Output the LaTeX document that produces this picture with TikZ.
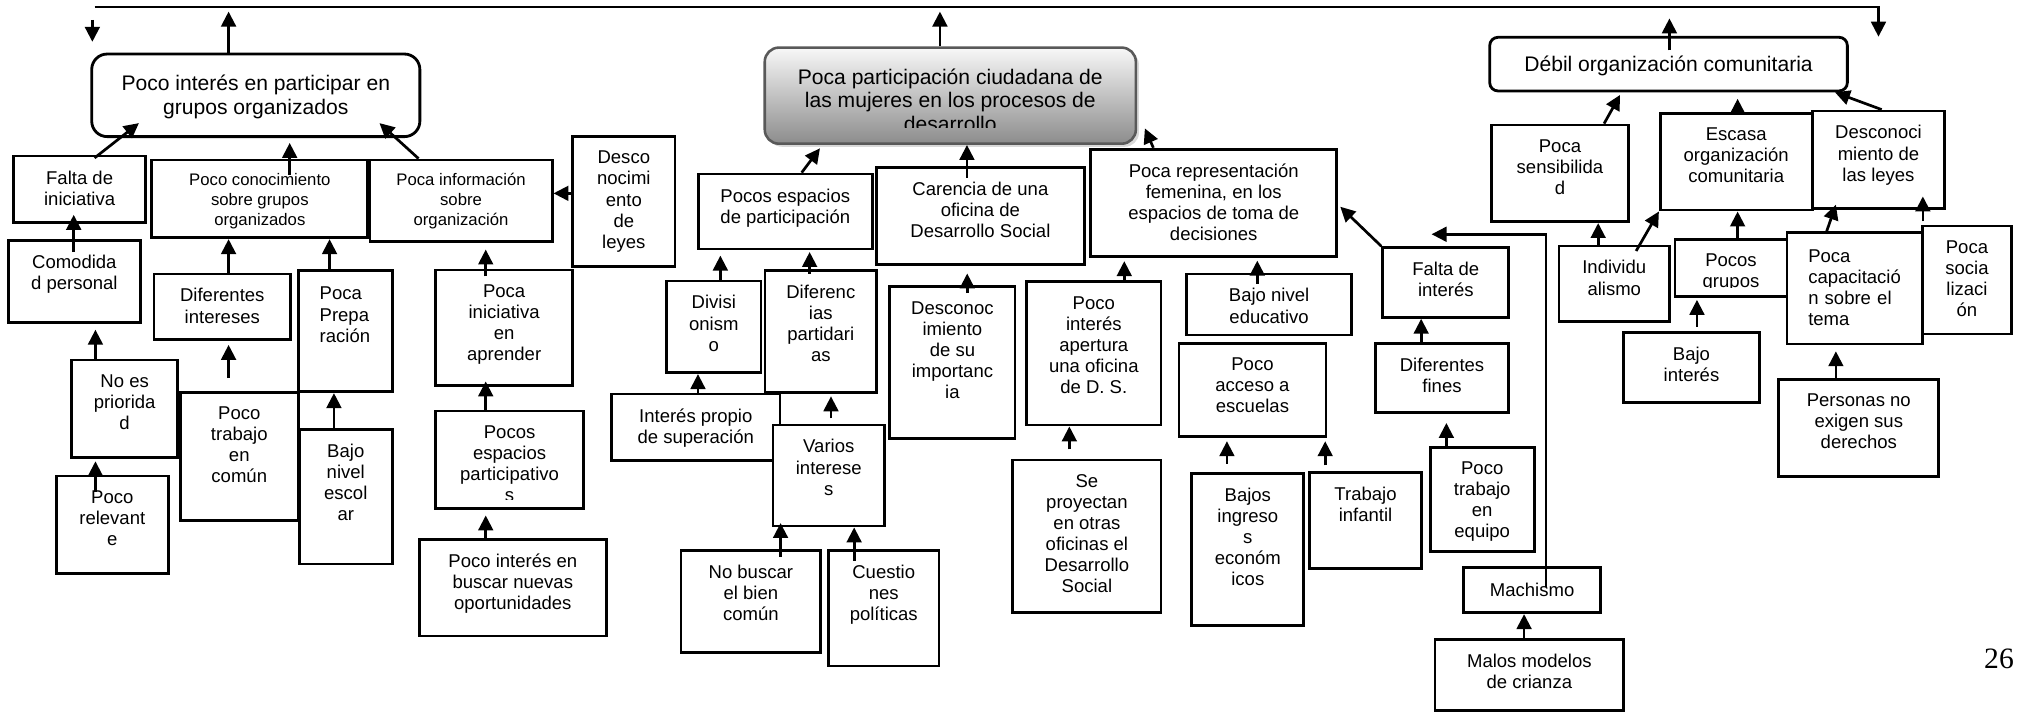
\documentclass[tikz,border=0pt]{standalone}
\usepackage{fontspec}
\setmainfont{Liberation Sans}
\newfontfamily\tiempos{Liberation Serif}
\usepackage{tikz}
\usetikzlibrary{arrows.meta,fit,shadows}
\tikzset{>={Triangle[length=5.8pt,width=5.7pt]},
         caja/.style={draw,line width=1.1pt,fill=white,inner sep=0pt},
         texto/.style={anchor=north,align=center,inner xsep=0pt,inner ysep=6pt,
                       font=\fontsize{7.2}{8.2}\selectfont,execute at begin node=\strut},
         chico/.style={font=\fontsize{6.5}{7.7}\selectfont,inner ysep=5.5pt},
         grande/.style={font=\fontsize{8.2}{9.5}\selectfont},
         redonda/.style={draw,line width=1.1pt,fill=white,rounded corners=6pt,inner sep=0pt},
         central/.style={draw=black!65,line width=1pt,rounded corners=5.5pt,inner sep=0pt,
                         top color=black!3,bottom color=black!45,
                         drop shadow={shadow xshift=1.2pt,shadow yshift=-1.2pt,opacity=.3}},
         pagina/.style={font=\tiempos\fontsize{11.5}{13}\selectfont,inner sep=0pt},
         flecha/.style={->,line width=1.05pt}}
\newcommand{\caja}[7][]{%
	\node[caja,fit={(#3,#4) (#5,#6)}] (#2) {};
	\begin{scope}
		\clip (#3,#4) rectangle (#5,#6-7);
		\node[texto,#1] (#2-t) at (#2.north) {#7};
	\end{scope}}

\begin{document}
\begin{tikzpicture}[x=0.5pt,y=-0.5pt]
	\useasboundingbox (0,0) rectangle (1568,558);
	\coordinate (tl) at (73.5,5.5);
	\coordinate (tr) at (1460.3,5.5);
	\node[redonda,fit={(71.3,42) (326.4,106.2)}] (pig) {};
	\node[texto,grande,inner ysep=8.45pt] (pig-t) at (pig.north) {Poco interés en participar en\\grupos organizados};
	\node[central,fit={(594.5,37) (883,111.7)}] (ppc) {};
	\begin{scope}
		\clip (594.5,37) rectangle (883,99);
		\node[texto,font=\fontsize{8.2}{9.1}\selectfont,inner ysep=8.5pt] (ppc-t) at (ppc.north)
			{Poca participación ciudadana de\\las mujeres en los procesos de\\desarrollo};
	\end{scope}
	\node[redonda,rounded corners=3.2pt,fit={(1158.1,29) (1436.1,70.7)}] (doc) {};
	\node[texto,grande,inner ysep=6.85pt] (doc-t) at (doc.north) {Débil organización comunitaria};
	\caja{fi}{10.8}{121.3}{113}{173.1}{Falta de\\iniciativa}
	\caja{cp}{6.7}{187}{108.9}{250.8}{Comodida\\d personal}
	\caja{nep}{55.6}{279.8}{138.2}{355.5}{No es\\priorida\\d}
	\caja{pr}{43.8}{370}{130.8}{445.7}{Poco\\relevant\\e}
	\caja[chico]{pcg}{118}{124.4}{286}{184.8}{Poco conocimiento\\sobre grupos\\organizados}
	\caja[chico]{pio}{287.6}{124.4}{429.2}{187.9}{Poca información\\sobre\\organización}
	\caja{dl}{445.2}{106.2}{524.7}{207.3}{Desco\\nocimi\\ento\\de\\leyes}
	\caja{di}{119.7}{213}{225.9}{263.8}{Diferentes\\intereses}
	\caja[text width=20pt,align=left]{pp}{232}{210.4}{305}{304.5}{Poca\\Prepa\\ración}
	\caja{ptc}{140}{305}{232}{404.7}{Poco\\trabajo\\en\\común}
	\caja{bne}{232.6}{333.7}{305}{438.4}{Bajo\\nivel\\escol\\ar}
	\caja{pia}{338.8}{209.9}{445}{299.8}{Poca\\iniciativa\\en\\aprender}
	\caja{pep}{338.8}{319.5}{453.5}{395.2}{Pocos\\espacios\\participativo\\s}
	\caja{pib}{326}{419.3}{471.3}{494.4}{Poco interés en\\buscar nuevas\\oportunidades}
	\caja{pesp}{542.9}{135.3}{678.1}{193.6}{Pocos espacios\\de participación}
	\caja{cod}{681.5}{130.3}{842.8}{205.5}{Carencia de una\\oficina de\\Desarrollo Social}
	\caja{prf}{848}{116}{1039.1}{199.5}{Poca representación\\femenina, en los\\espacios de toma de\\decisiones}
	\caja{div}{518.2}{218.4}{591.6}{289.7}{Divisi\\onism\\o}
	\caja{dp}{594.7}{210.4}{681.5}{305}{Diferenc\\ias\\partidari\\as}
	\caja{dsi}{691.8}{222.9}{789}{340.7}{Desconoc\\imiento\\de su\\importanc\\ia}
	\caja{pao}{798.1}{219}{902.5}{330.4}{Poco\\interés\\apertura\\una oficina\\de D. S.}
	\caja{bned}{922.5}{213}{1050.7}{260.4}{Bajo nivel\\educativo}
	\caja{pae}{916.5}{266.9}{1030.8}{339.5}{Poco\\acceso a\\escuelas}
	\caja{ips}{475.5}{306.3}{606.3}{358.1}{Interés propio\\de superación}
	\caja{vi}{600.9}{330.4}{687.7}{408.9}{Varios\\interese\\s}
	\caja{nbc}{529.4}{428}{638}{507.1}{No buscar\\el bien\\común}
	\caja{cpo}{644}{428}{730}{517.7}{Cuestio\\nes\\políticas}
	\caja{sp}{787.4}{357.6}{902.5}{476.3}{Se\\proyectan\\en otras\\oficinas el\\Desarrollo\\Social}
	\caja{bie}{926.5}{367.9}{1013.6}{486.5}{Bajos\\ingreso\\s\\económ\\icos}
	\caja{ti}{1017.8}{367.4}{1105.3}{441.8}{Trabajo\\infantil}
	\caja{fdi}{1074.9}{192.5}{1173}{246.7}{Falta de\\interés}
	\caja{dfi}{1069}{266.9}{1173}{320.5}{Diferentes\\fines}
	\caja{pte}{1111.9}{347.7}{1192.6}{428.8}{Poco\\trabajo\\en\\equipo}
	\caja{mach}{1137.9}{441.3}{1244.2}{476.3}{Machismo}
	\caja{mmc}{1115.5}{497}{1262.3}{552.5}{Malos modelos\\de crianza}
	\caja{ps}{1159.6}{97.2}{1265.8}{172.3}{Poca\\sensibilida\\d}
	\caja{eoc}{1290.7}{88.1}{1408.7}{163.3}{Escasa\\organización\\comunitaria}
	\caja{dll}{1408.7}{86.3}{1511.9}{162}{Desconoci\\miento de\\las leyes}
	\caja{ind}{1212}{191.2}{1297.8}{250}{Individu\\alismo}
	\caja{pg}{1302.1}{186}{1389.2}{230.6}{Pocos\\grupos}
	\caja{bi}{1262}{258.6}{1367.9}{313}{Bajo\\interés}
	\caja[text width=36.3pt,align=left]{pct}{1389.2}{180.9}{1494.8}{267.4}{Poca\\capacitació\\\makebox[36.3pt][s]{n sobre el}\\tema}
	\caja{psoc}{1494.8}{175.7}{1563.4}{259.7}{Poca\\socia\\lizaci\\ón}
	\caja{pne}{1382.8}{294.9}{1507.2}{370.5}{Personas no\\exigen sus\\derechos}
	\node[pagina] (pag) at (1554,512) {26};
	\draw[flecha] (tl) -- (tr) -- ([yshift=-11.5pt]tr);
	\draw[flecha] ([xshift=-0.85pt,yshift=-5pt]tl) -- ([xshift=-0.85pt,yshift=-13.5pt]tl);
	\draw[flecha] (pig.north -| 177.7,0) -- ([yshift=-1.75pt]tl -| 177.7,0);
	\draw[flecha] (ppc.north -| 730.7,0) -- ([yshift=-1.75pt]tl -| 730.7,0);
	\draw[flecha] ([yshift=-5.6pt]doc.north -| 1297.8,0) -- ([yshift=-4.4pt]tl -| 1297.8,0);
	\draw[flecha] ([yshift=-1.3pt]fi.north -| 73.5,0) -- ([yshift=5.8pt]pig.south -| 108,0);
	\draw[flecha] ([yshift=-6.3pt]pcg.north -| 225.2,0) -- ([yshift=-1.9pt]pig.south -| 225.2,0);
	\draw[flecha] (pio.north -| 325.4,0) -- ([yshift=5.8pt]pig.south -| 295,0);
	\draw[flecha] (dl.west |- 0,150.3) -- (pio.east |- 0,150.3);
	\draw[flecha] ([yshift=-5pt]cp.north -| 57.3,0) -- ([yshift=3.6pt]fi.south -| 57.3,0);
	\draw[flecha] (di.north -| 177.7,0) -- (pcg.south -| 177.7,0);
	\draw[flecha] (pp.north -| 256.2,0) -- (pcg.south -| 256.2,0);
	\draw[flecha] ([yshift=-3pt]pia.north -| 377.6,0) -- ([yshift=-2.5pt]pio.south -| 377.6,0);
	\draw[flecha] (nep.north -| 74.2,0) -- ([yshift=-2.2pt]cp.south -| 74.2,0);
	\draw[flecha] ([yshift=-6.7pt]pr.north -| 74.2,0) -- ([yshift=-1pt]nep.south -| 74.2,0);
	\draw[flecha] ([yshift=5pt]ptc.north -| 177.7,0) -- ([yshift=-1.6pt]di.south -| 177.7,0);
	\draw[flecha] (bne.north -| 259.6,0) -- (pp.south -| 259.6,0);
	\draw[flecha] (pep.north -| 377.6,0) -- ([yshift=2.2pt]pia.south -| 377.6,0);
	\draw[flecha] (pib.north -| 377.6,0) -- ([yshift=-2.2pt]pep.south -| 377.6,0);
	\draw[flecha] (pesp.north -| 623.2,0) -- ([yshift=-1.3pt]ppc.south -| 637.4,0);
	\draw[flecha] ([yshift=-4.4pt]cod.north -| 751.7,0) -- (ppc.south -| 751.7,0);
	\draw[flecha] (prf.north -| 896.6,0) -- ([xshift=3pt]ppc.east |- 0,99.8);
	\draw[flecha] (div.north -| 560,0) -- ([yshift=-2pt]pesp.south -| 560,0);
	\draw[flecha] ([yshift=-1.7pt]dp.north -| 629.4,0) -- ([yshift=-0.6pt]pesp.south -| 629.4,0);
	\draw[flecha] ([yshift=-3pt]dsi.north -| 751.9,0) -- ([yshift=-3pt]cod.south -| 751.9,0);
	\draw[flecha] (pao.north -| 874,0) -- ([yshift=-1.2pt]prf.south -| 874,0);
	\draw[flecha] ([yshift=-4.3pt]bned.north -| 977.4,0) -- ([yshift=-1pt]prf.south -| 977.4,0);
	\draw[flecha] (ips.north -| 542.6,0) -- (div.south -| 542.6,0);
	\draw[flecha] ([yshift=2pt]vi.north -| 646,0) -- ([yshift=-1pt]dp.south -| 646,0);
	\draw[flecha] ([yshift=-3pt]nbc.north -| 606.8,0) -- ([yshift=1.7pt]vi.south -| 606.8,0);
	\draw[flecha] ([yshift=-4.5pt]cpo.north -| 664,0) -- (vi.south -| 664,0);
	\draw[flecha] ([yshift=3.6pt]sp.north -| 831.3,0) -- (pao.south -| 831.3,0);
	\draw[flecha] ([yshift=3.2pt]bie.north -| 953.8,0) -- ([yshift=-1.2pt]pae.south -| 953.8,0);
	\draw[flecha] ([yshift=2.3pt]ti.north -| 1030.2,0) -- ([yshift=-1.2pt]pae.south -| 1030.2,0);
	\draw[flecha] (fdi.north west) -- ([xshift=0.85pt]prf.east |- 0,160.7);
	\draw[flecha] ([yshift=-8pt]mach.north -| 1201.8,0) |- ([yshift=4.65pt]fdi.north -| 1112.9,0);
	\draw[flecha] (dfi.north -| 1104.8,0) -- (fdi.south -| 1104.8,0);
	\draw[flecha] (pte.north -| 1124.4,0) -- ([yshift=-3.6pt]dfi.south -| 1124.4,0);
	\draw[flecha] (mmc.north -| 1184.8,0) -- (mach.south -| 1184.8,0);
	\draw[flecha] (ps.north -| 1247,0) -- ([yshift=-1pt]doc.south -| 1259.4,0);
	\draw[flecha] (eoc.north -| 1350.8,0) -- ([yshift=-2.5pt]doc.south -| 1350.8,0);
	\draw[flecha] (dll.north -| 1462.8,0) -- (doc.south -| 1426.5,0);
	\draw[flecha] (ind.north -| 1242.4,0) -- (ps.south -| 1242.4,0);
	\draw[flecha] ([yshift=-2.5pt]ind.north -| 1271.9,0) -- (eoc.south west);
	\draw[flecha] (pg.north -| 1350.8,0) -- (eoc.south -| 1350.8,0);
	\draw[flecha] ([yshift=1.7pt]bi.north -| 1319.2,0) -- ([yshift=-0.7pt]pg.south -| 1319.2,0);
	\draw[flecha] ([yshift=-0.9pt]pct.north -| 1419.4,0) -- ([yshift=2pt]dll.south -| 1427.2,0);
	\draw[flecha] ([yshift=1.3pt]psoc.north -| 1494.8,0) -- ([yshift=5.2pt]dll.south -| 1494.8,0);
	\draw[flecha] (pne.north -| 1427.2,0) -- ([yshift=-2.3pt]pct.south -| 1427.2,0);
\end{tikzpicture}
\end{document}
